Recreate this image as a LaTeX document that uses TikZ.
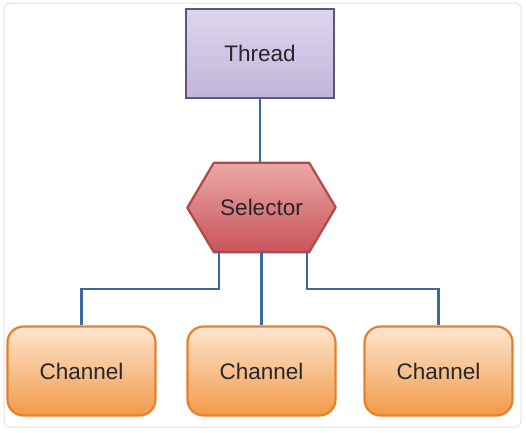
\documentclass[tikz,border=0pt]{standalone}
\usepackage{fontspec}
\setmainfont{Liberation Sans}
\usetikzlibrary{calc}
\definecolor{threadtop}{HTML}{DDD5EC}
\definecolor{threadbot}{HTML}{C2B5DA}
\definecolor{threadline}{HTML}{5E5482}
\definecolor{seltop}{HTML}{EBA8A6}
\definecolor{selbot}{HTML}{C8545A}
\definecolor{selline}{HTML}{B04A4A}
\definecolor{chantop}{HTML}{FDE5D0}
\definecolor{chanbot}{HTML}{F29A48}
\definecolor{chanline}{HTML}{E5812C}
\definecolor{linkblue}{HTML}{3D6A9E}
\definecolor{txt}{HTML}{26262B}

\begin{document}
\begin{tikzpicture}[x=1pt,y=-1pt,
    box/.style={draw,line width=2.2pt,minimum width=148pt,minimum height=89pt,inner sep=0pt,
      font=\fontsize{22.5}{26}\selectfont,text=txt},
    thread/.style={box,draw=threadline,top color=threadtop,bottom color=threadbot},
    chan/.style={box,rounded corners=16pt,draw=chanline,top color=chantop,bottom color=chanbot},
    hexa/.style={minimum width=95pt,minimum height=89pt,inner sep=0pt},
    link/.style={draw=linkblue,line width=2.4pt}]
    \useasboundingbox (0,0) rectangle (526,432);
    \draw[gray!22,line width=1pt,rounded corners=6pt] (4,3) rectangle (521,427);
    % boxes
    \node[thread] (thread) at (260,53.5) {Thread};
    \node[hexa] (selector) at (261.5,207.5) {};
    \path[draw=selline,line width=2.2pt,line join=round,top color=seltop,bottom color=selbot]
      (selector.north west) -- (selector.north east) -- ++(26.5,44.5) -- (selector.south east)
      -- (selector.south west) -- ++(-26.5,-44.5) -- cycle;
    \node[font=\fontsize{22.5}{26}\selectfont,text=txt] (sellabel) at (selector) {Selector};
    \node[chan] (chanA) at (81.5,371) {Channel};
    \node[chan] (chanB) at (261.5,371) {Channel};
    \node[chan] (chanC) at (438.5,371) {Channel};
    % connectors
    \draw[link] (thread.south) -- (thread.south |- selector.north);
    \draw[link] ([xshift=5pt]selector.south west) -- ++(0,37) -| (chanA.north);
    \draw[link] (selector.south) -- (chanB.north);
    \draw[link] ([xshift=-2pt]selector.south east) -- ++(0,37) -| (chanC.north);
\end{tikzpicture}
\end{document}
